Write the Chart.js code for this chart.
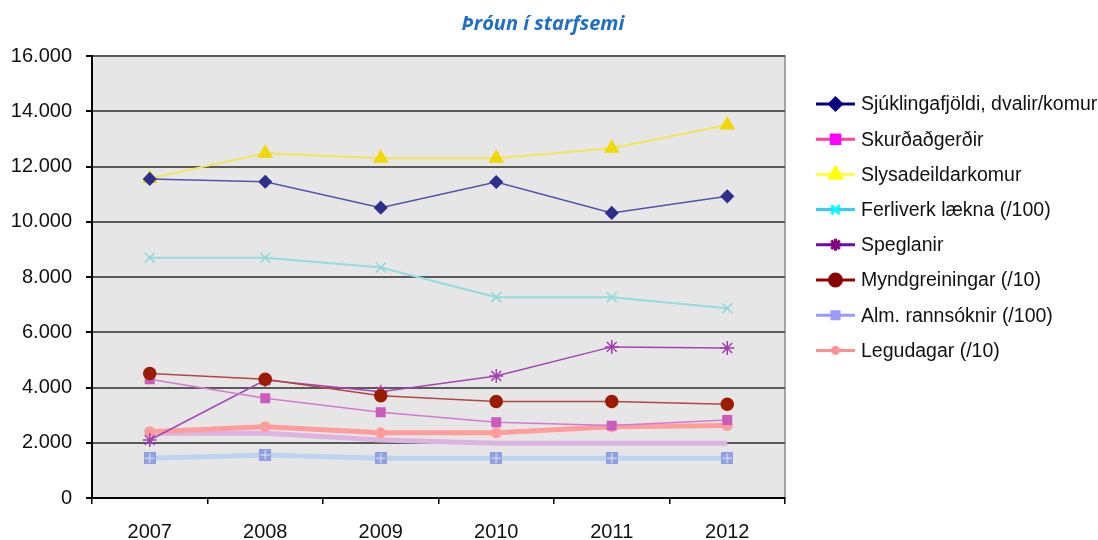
<!DOCTYPE html>
<html>
<head>
<meta charset="utf-8">
<script src="https://cdn.jsdelivr.net/npm/chart.js@4/dist/chart.umd.min.js"></script>
<style>
  html, body { margin: 0; padding: 0; background: #ffffff; }
  #wrap { position: relative; width: 1098px; height: 540px; }
</style>
</head>
<body>
<div id="wrap"><canvas id="c"></canvas></div>
<script>
// ---- data ----
const chartTitle = 'Þróun í starfsemi';
const years = ['2007', '2008', '2009', '2010', '2011', '2012'];
const yTicks = [0, 2000, 4000, 6000, 8000, 10000, 12000, 14000, 16000];
const labels = ['Sjúklingafjöldi, dvalir/komur', 'Skurðaðgerðir', 'Slysadeildarkomur', 'Ferliverk lækna (/100)', 'Speglanir', 'Myndgreiningar (/10)', 'Alm. rannsóknir (/100)', 'Legudagar (/10)'];
const sjuklingafjoldi = [11550, 11450, 10510, 11440, 10320, 10920];
const skurdadgerdir = [4300, 3610, 3100, 2740, 2620, 2820];
const slysadeildarkomur = [11570, 12480, 12300, 12300, 12660, 13500];
const ferliverk = [8700, 8700, 8340, 7270, 7270, 6870];
const speglanir = [2100, 4270, 3850, 4420, 5470, 5430];
const myndgreiningar = [4510, 4300, 3700, 3490, 3490, 3390];
const almRannsoknir = [1440, 1560, 1440, 1440, 1440, 1440];
const legudagar = [2400, 2580, 2360, 2360, 2580, 2620];
const onefnd = [2340, 2340, 2100, 1980, 1980, 1980]; // unlabelled series (not in legend)

// ---- styles ----
function squareMarker(size, fill) {
  const c = document.createElement('canvas');
  c.width = size; c.height = size;
  const g = c.getContext('2d');
  g.fillStyle = fill; g.fillRect(0, 0, size, size);
  g.strokeStyle = 'rgba(255,255,255,0.8)'; g.lineWidth = 1;
  g.beginPath();
  g.moveTo(size / 2, 1); g.lineTo(size / 2, size - 1);
  g.moveTo(1, size / 2); g.lineTo(size - 1, size / 2);
  g.stroke();
  return c;
}
const almMarker = squareMarker(12, '#8f9fe0');

const datasets = [
  { label: labels[0], data: sjuklingafjoldi, borderColor: '#5252ae', borderWidth: 1.5,
    pointStyle: 'rectRot', pointRadius: 6, pointBackgroundColor: '#2e2e8e', pointBorderColor: '#2e2e8e', order: 1 },
  { label: labels[1], data: skurdadgerdir, borderColor: '#d27ad0', borderWidth: 1.5,
    pointStyle: 'rect', pointRadius: 6, pointBackgroundColor: '#cc5cbc', pointBorderColor: '#cc5cbc', order: 2 },
  { label: labels[2], data: slysadeildarkomur, borderColor: '#f2e45a', borderWidth: 2,
    pointStyle: 'triangle', pointRadius: 7, pointBackgroundColor: '#f0d800', pointBorderColor: '#f0d800', order: 3 },
  { label: labels[3], data: ferliverk, borderColor: '#94dcdc', borderWidth: 2,
    pointStyle: 'crossRot', pointRadius: 7, pointBackgroundColor: '#94dcdc', pointBorderColor: '#8fd8d8', pointBorderWidth: 1.5, order: 4 },
  { label: labels[4], data: speglanir, borderColor: '#a444b4', borderWidth: 1.5,
    pointStyle: 'star', pointRadius: 7, pointBackgroundColor: '#a040b0', pointBorderColor: '#a040b0', pointBorderWidth: 1.5, order: 5 },
  { label: labels[5], data: myndgreiningar, borderColor: '#b04646', borderWidth: 1.5,
    pointStyle: 'circle', pointRadius: 6, pointBackgroundColor: '#9b1c00', pointBorderColor: '#9b1c00', order: 0 },
  { label: labels[6], data: almRannsoknir, borderColor: '#bcd4f0', borderWidth: 5,
    pointStyle: almMarker, pointRadius: 6, order: 7 },
  { label: labels[7], data: legudagar, borderColor: '#ff9c9c', borderWidth: 5,
    pointStyle: 'circle', pointRadius: 3, pointBackgroundColor: '#ff9c9c', pointBorderColor: '#ff9c9c', order: 6 },
  { label: '', data: onefnd, borderColor: '#dcb4e2', borderWidth: 5,
    pointRadius: 0, order: 8 }
];

// legend appearance (as shown in the original legend)
const legendStyles = [
  { line: '#000080', fill: '#000080', style: 'rectRot', r: 6 },
  { line: '#ff3fa0', fill: '#ff00ff', style: 'rect', r: 6 },
  { line: '#ffff40', fill: '#ffff00', style: 'triangle', r: 7 },
  { line: '#33ccff', fill: '#00ffff', style: 'crossRot', r: 6, bw: 2.5 },
  { line: '#6a0dad', fill: '#800080', style: 'star', r: 6, bw: 2.5 },
  { line: '#990000', fill: '#880000', style: 'circle', r: 6 },
  { line: '#9999ff', fill: '#9999ff', style: 'rect', r: 5 },
  { line: '#ff9090', fill: '#ff9090', style: 'circle', r: 3 }
];

const PLOT = { left: 92, right: 785, top: 56, bottom: 498 };

const decor = {
  id: 'decor',
  beforeDraw(chart) {
    const { ctx, chartArea: a } = chart;
    ctx.save();
    ctx.fillStyle = '#e6e6e6';
    ctx.fillRect(a.left, a.top, a.right - a.left, a.bottom - a.top);
    ctx.strokeStyle = '#8a8a8a';
    ctx.lineWidth = 1.5;
    ctx.strokeRect(a.left, a.top, a.right - a.left, a.bottom - a.top);
    ctx.restore();
  },
  afterDraw(chart) {
    const { ctx } = chart;
    ctx.save();
    // title
    ctx.fillStyle = '#1f70c4';
    ctx.font = 'italic bold 20px "Open Sans"';
    ctx.textAlign = 'center';
    ctx.textBaseline = 'alphabetic';
    ctx.fillText(chartTitle, 543, 30);
    // legend
    ctx.font = '19.5px "Liberation Sans"';
    ctx.textAlign = 'left';
    ctx.textBaseline = 'middle';
    for (let i = 0; i < labels.length; i++) {
      const y = 104 + i * 35.2;
      const s = legendStyles[i];
      ctx.strokeStyle = s.line;
      ctx.lineWidth = 3;
      ctx.beginPath();
      ctx.moveTo(816, y); ctx.lineTo(855, y);
      ctx.stroke();
      ctx.fillStyle = s.fill;
      ctx.strokeStyle = s.fill;
      Chart.helpers.drawPoint(ctx, { pointStyle: s.style, radius: s.r, rotation: 0, borderWidth: s.bw || 1 }, 835.5, y);
      ctx.fillStyle = '#111111';
      ctx.fillText(labels[i], 861, y + 1);
    }
    ctx.restore();
  }
};

new Chart(document.getElementById('c'), {
  type: 'line',
  data: { labels: years, datasets: datasets.map(d => Object.assign({ fill: false, tension: 0, pointHoverRadius: d.pointRadius }, d)) },
  plugins: [decor],
  options: {
    responsive: true,
    maintainAspectRatio: false,
    animation: false,
    events: [],
    layout: { padding: { left: 0, top: PLOT.top, right: 1098 - PLOT.right, bottom: 0 } },
    plugins: { legend: { display: false }, title: { display: false }, tooltip: { enabled: false } },
    scales: {
      x: {
        offset: true,
        grid: { offset: true, drawOnChartArea: false, tickLength: 6, color: '#000000', lineWidth: 1.5 },
        border: { color: '#000000', width: 2 },
        ticks: { color: '#111111', font: { family: '"Liberation Sans"', size: 20 }, padding: 16, maxRotation: 0 },
        afterFit(s) { s.height = 540 - PLOT.bottom; }
      },
      y: {
        min: 0, max: 16000,
        afterBuildTicks(s) { s.ticks = yTicks.map(v => ({ value: v })); },
        grid: { color: '#5a5a5a', lineWidth: 2, tickLength: 6, tickColor: '#000000' },
        border: { color: '#000000', width: 2 },
        ticks: {
          color: '#111111', font: { family: '"Liberation Sans"', size: 20 }, padding: 14,
          callback: v => v.toString().replace(/\B(?=(\d{3})+(?!\d))/g, '.')
        },
        afterFit(s) { s.width = PLOT.left; }
      }
    }
  }
});
</script>
</body>
</html>
